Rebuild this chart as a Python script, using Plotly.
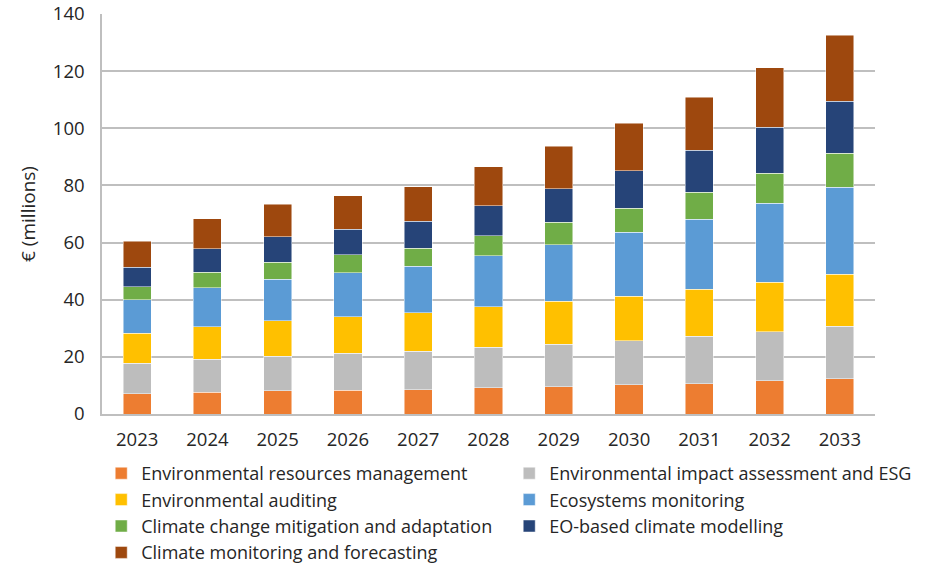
import plotly.graph_objects as go

years = ["2023", "2024", "2025", "2026", "2027", "2028", "2029", "2030", "2031", "2032", "2033"]

env_resources = [7.1, 7.6, 8.1, 8.4, 8.5, 9.2, 9.6, 10.2, 10.6, 11.7, 12.4]
env_impact = [10.6, 11.5, 12.1, 12.8, 13.4, 14.1, 14.9, 15.5, 16.6, 17.1, 18.3]
env_auditing = [10.5, 11.4, 12.4, 12.9, 13.6, 14.2, 14.9, 15.6, 16.4, 17.3, 18.2]
ecosystems = [11.8, 13.7, 14.5, 15.4, 16.2, 17.9, 19.9, 22.3, 24.5, 27.6, 30.5]
climate_change = [4.6, 5.4, 6.1, 6.2, 6.3, 7.0, 7.9, 8.4, 9.6, 10.5, 11.9]
eo_modelling = [6.8, 8.2, 8.8, 8.9, 9.4, 10.5, 11.7, 13.2, 14.6, 16.1, 18.1]
climate_monitoring = [9.0, 10.5, 11.5, 11.8, 12.2, 13.6, 14.9, 16.5, 18.5, 20.9, 23.2]

series = [
    ("Environmental resources management", env_resources, "#ED7D31"),
    ("Environmental impact assessment and ESG", env_impact, "#BDBDBD"),
    ("Environmental auditing", env_auditing, "#FFC000"),
    ("Ecosystems monitoring", ecosystems, "#5B9BD5"),
    ("Climate change mitigation and adaptation", climate_change, "#70AD47"),
    ("EO-based climate modelling", eo_modelling, "#264478"),
    ("Climate monitoring and forecasting", climate_monitoring, "#9E480E"),
]

y_ticks = [0, 20, 40, 60, 80, 100, 120, 140]

fig = go.Figure()
for name, vals, col in series:
    fig.add_trace(go.Bar(
        x=years, y=vals, name=name,
        marker=dict(color=col, line=dict(color="rgba(255,255,255,0.6)", width=0.8)),
    ))

font_family = "Open Sans"
fig.update_layout(
    barmode="stack",
    bargap=0.6,
    width=933, height=568,
    margin=dict(l=102, r=58, t=14, b=154, autoexpand=False),
    plot_bgcolor="white", paper_bgcolor="white",
    font=dict(family=font_family, size=18, color="#262626"),
    showlegend=True,
    legend=dict(
        orientation="h", xref="paper", yref="paper",
        x=-0.001, xanchor="left", y=-0.1025, yanchor="top",
        entrywidth=363, entrywidthmode="pixels",
        font=dict(size=18, color="#262626"),
        traceorder="normal",
        itemclick=False,
    ),
    xaxis=dict(
        showline=True, linecolor="#BFBFBF", linewidth=1.5,
        ticks="", tickfont=dict(size=18.5), ticklabelstandoff=8,
    ),
    yaxis=dict(
        range=[0, 140], tickvals=y_ticks,
        showgrid=True, gridcolor="#BFBFBF", gridwidth=1.5,
        showline=True, linecolor="#BFBFBF", linewidth=1.5,
        zeroline=False, ticks="", tickfont=dict(size=18.5), ticklabelstandoff=12,
        title=dict(text="€ (millions)", font=dict(size=19), standoff=12),
    ),
)

fig.write_html(
    "out.html",
    config={"displayModeBar": False},
    post_script="document.body.style.margin='0';document.body.style.padding='0';",
)
